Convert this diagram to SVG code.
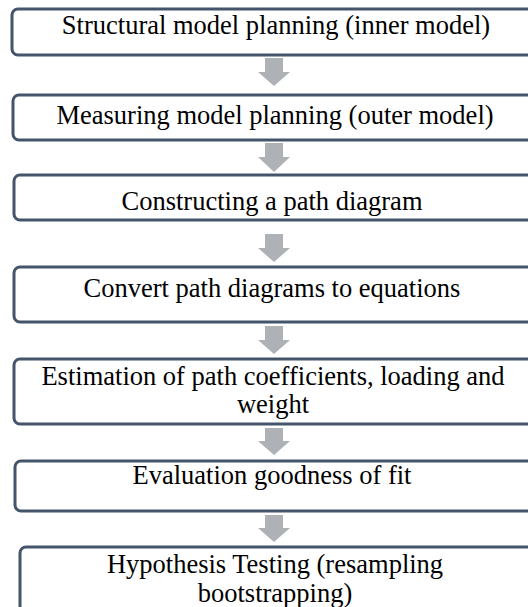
<svg xmlns="http://www.w3.org/2000/svg" width="528" height="607" viewBox="0 0 528 607">
<style>
.box{fill:#ffffff;stroke:#44546a;stroke-width:3}
.arr{fill:#aeb1b6}
.t{font-family:'Liberation Serif','Times New Roman',Times,serif;font-size:26.5px;fill:#000000;text-anchor:middle}
</style>
<rect width="528" height="607" fill="#ffffff"/>
<g id="connectors">
<path class="arr" d="M265,58 H283 V72 H290 L274,86 L258,72 H265 Z"/>
<path class="arr" d="M265,143 H283 V157 H290 L274,172 L258,157 H265 Z"/>
<path class="arr" d="M265,234 H283 V248 H290 L274,262 L258,248 H265 Z"/>
<path class="arr" d="M265,326 H283 V340 H290 L274,354 L258,340 H265 Z"/>
<path class="arr" d="M265,428 H283 V441 H290 L274,455 L258,441 H265 Z"/>
<path class="arr" d="M265,515 H283 V528 H290 L274,542 L258,528 H265 Z"/>
</g>
<g id="n1"><rect class="box" x="12" y="9" width="540" height="46" rx="6"/><text class="t" x="276" y="34">Structural model planning (inner model)</text></g>
<g id="n2"><rect class="box" x="13" y="95" width="540" height="45" rx="6"/><text class="t" x="275" y="124">Measuring model planning (outer model)</text></g>
<g id="n3"><rect class="box" x="14" y="175" width="540" height="45" rx="6"/><text class="t" x="272" y="210">Constructing a path diagram</text></g>
<g id="n4"><rect class="box" x="14" y="267" width="540" height="55" rx="6"/><text class="t" x="272" y="297">Convert path diagrams to equations</text></g>
<g id="n5"><rect class="box" x="14" y="359" width="540" height="65" rx="6"/><text class="t" x="273" y="385">Estimation of path coefficients, loading and</text><text class="t" x="273" y="413">weight</text></g>
<g id="n6"><rect class="box" x="15" y="461" width="540" height="50" rx="6"/><text class="t" x="272" y="484">Evaluation goodness of fit</text></g>
<g id="n7"><rect class="box" x="20" y="547" width="540" height="80" rx="6"/><text class="t" x="275" y="573">Hypothesis Testing (resampling</text><text class="t" x="275" y="602">bootstrapping)</text></g>
</svg>
